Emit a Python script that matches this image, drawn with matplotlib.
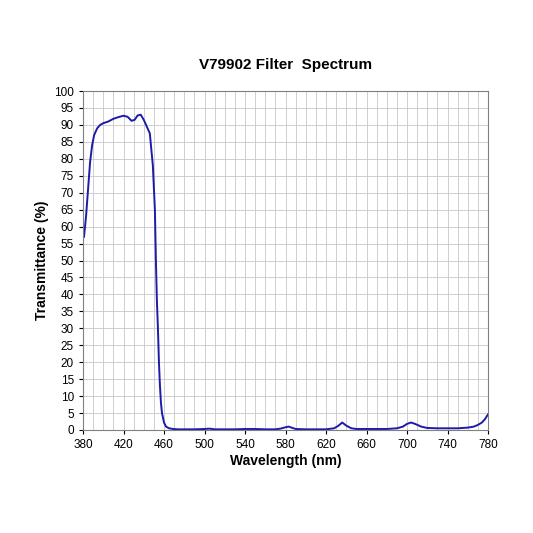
import numpy as np
import matplotlib.pyplot as plt

wavelength = [381, 383, 385, 387, 389, 391, 394, 397, 400, 405, 410, 415, 420, 424, 428, 431, 434, 437, 440,
              443, 446, 449, 451, 452, 453, 454, 455, 456, 457, 458, 460, 462, 465, 469, 474, 480, 490, 500,
              505, 510, 520, 530, 540, 550, 560, 570, 575, 580, 583, 586, 590, 600, 610, 620, 628, 632, 636,
              640, 645, 650, 660, 670, 680, 690, 696, 700, 704, 708, 714, 720, 730, 740, 750, 760, 766, 770,
              774, 777, 780]
transmit = [57, 63, 71, 79, 84, 87, 89, 90, 90.5, 91, 91.8, 92.3, 92.7, 92.4, 91.2, 91.5, 92.8, 93, 91.5,
            89.5, 87.5, 78, 65, 50, 38, 30, 20, 13, 8, 5, 2.2, 1.0, 0.5, 0.3, 0.2, 0.2, 0.2, 0.3,
            0.4, 0.2, 0.2, 0.2, 0.3, 0.3, 0.2, 0.2, 0.4, 0.8, 1.0, 0.7, 0.3, 0.2, 0.2, 0.2, 0.5, 1.2, 2.2,
            1.3, 0.5, 0.3, 0.3, 0.3, 0.3, 0.5, 1.0, 1.8, 2.2, 1.8, 1.0, 0.6, 0.5, 0.5, 0.5, 0.7, 1.0, 1.5,
            2.2, 3.2, 4.6]

plt.rcParams["font.family"] = ["Liberation Sans", "DejaVu Sans"]
fig = plt.figure(figsize=(5.33, 5.33), dpi=100)
ax = fig.add_axes([83 / 533, 1 - 430 / 533, 405 / 533, 339 / 533])
ax.plot(wavelength, transmit, color="#1c1ca8", lw=1.4)
ax.set_xlim(380, 780)
ax.set_ylim(0, 100)
ax.set_xticks(np.arange(380, 781, 40))
ax.set_xticks(np.arange(380, 781, 10), minor=True)
ax.set_yticks(np.arange(0, 101, 5))
ax.tick_params(labelsize=8.5, length=3)
ax.tick_params(which="minor", length=0)
ax.grid(True, which="both", color="#c8c8c8", lw=0.6)
for s in ax.spines.values():
    s.set_color("#808080")
ax.set_xlabel("Wavelength (nm)", fontweight="bold", fontsize=10, labelpad=2)
ax.set_ylabel("Transmittance (%)", fontweight="bold", fontsize=10)
ax.set_title("V79902 Filter  Spectrum", fontweight="bold", fontsize=11, pad=16)
fig.savefig("out.png", dpi=100)
